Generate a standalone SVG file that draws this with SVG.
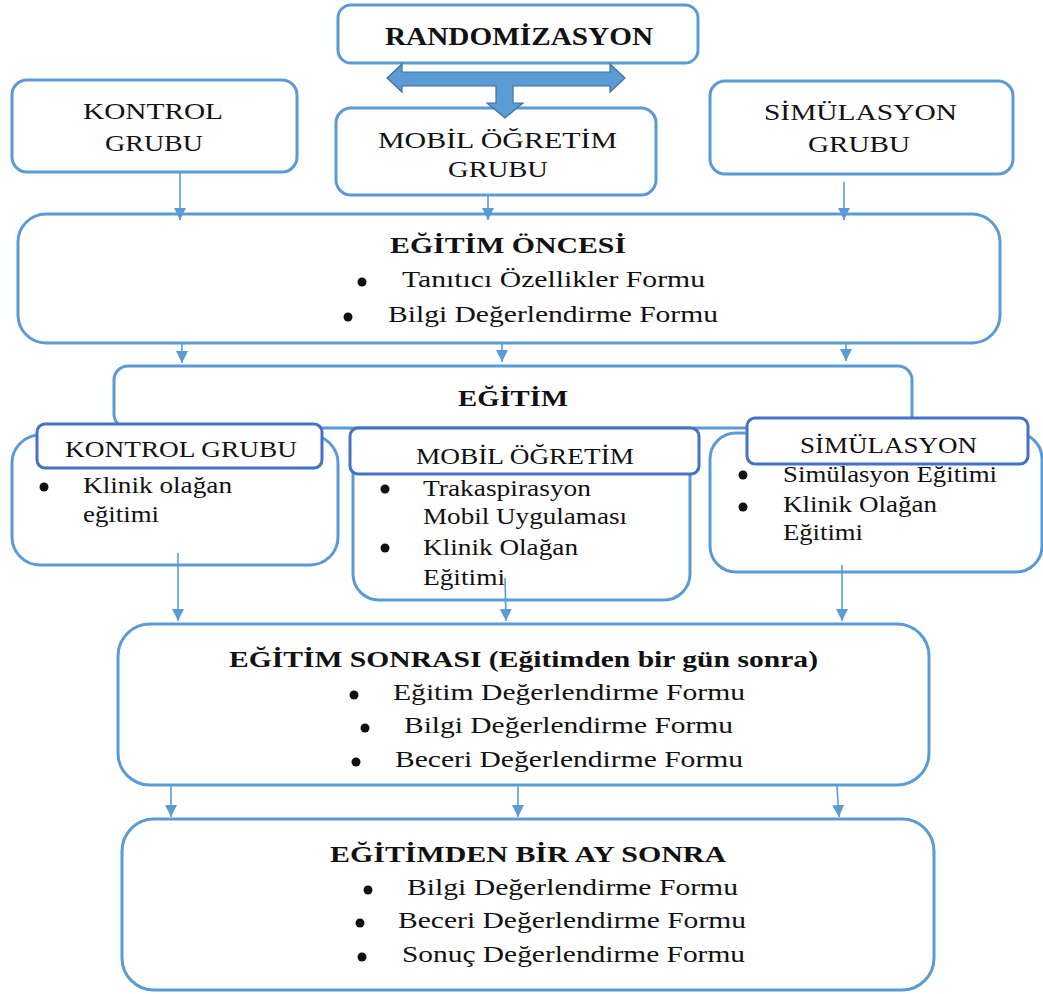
<svg xmlns="http://www.w3.org/2000/svg" width="1043" height="994" viewBox="0 0 1043 994">
<defs>
<style>
.box{fill:#fff;stroke:#5B9BD5;stroke-width:3}
.hdr{fill:#fff;stroke:#4472C4;stroke-width:3}
.t{font-family:"Liberation Serif","Times New Roman",serif;font-size:23px;fill:#111}
.tl{font-family:"Liberation Serif","Times New Roman",serif;font-size:24px;fill:#111}
.b{font-family:"Liberation Serif","Times New Roman",serif;font-size:23px;font-weight:bold;fill:#111}
.bl{font-family:"Liberation Serif","Times New Roman",serif;font-size:26px;font-weight:bold;fill:#111}
.bul{fill:#111}
.con{stroke:#5B9BD5;stroke-width:1.6;fill:none;marker-end:url(#ah)}
</style>
<marker id="ah" markerUnits="userSpaceOnUse" markerWidth="14" markerHeight="12" refX="12" refY="6" orient="auto">
<path d="M0,0 L12,6 L0,12 Z" fill="#5B9BD5"/>
</marker>
</defs>
<rect width="1043" height="994" fill="#fff"/>

<g id="randomizasyon">
<rect class="box" x="338" y="5" width="360" height="58" rx="13"/>
<text class="bl" x="385" y="45" textLength="268" lengthAdjust="spacingAndGlyphs">RANDOMİZASYON</text>
</g>

<g id="kontrol-grubu">
<rect class="box" x="12" y="80" width="285" height="92" rx="15"/>
<text class="tl" x="83" y="119" textLength="140" lengthAdjust="spacingAndGlyphs">KONTROL</text>
<text class="tl" x="105" y="151" textLength="98" lengthAdjust="spacingAndGlyphs">GRUBU</text>
</g>

<g id="mobil-grubu">
<rect class="box" x="336" y="108" width="320" height="87" rx="15"/>
<text class="tl" x="378" y="148" textLength="239" lengthAdjust="spacingAndGlyphs">MOBİL ÖĞRETİM</text>
<text class="tl" x="448" y="177" textLength="100" lengthAdjust="spacingAndGlyphs">GRUBU</text>
</g>

<g id="block-arrow">
<path d="M387,78 L402,64 L402,72 L610,72 L610,64 L625,78 L610,92 L610,86 L513,86 L513,103 L523,103 L505,118 L487,103 L496,103 L496,86 L402,86 L402,92 Z" fill="#5B9BD5" stroke="#41719C" stroke-width="1.2"/>
</g>

<g id="simulasyon-grubu">
<rect class="box" x="710" y="81" width="303" height="93" rx="15"/>
<text class="tl" x="764" y="120" textLength="193" lengthAdjust="spacingAndGlyphs">SİMÜLASYON</text>
<text class="tl" x="808" y="152" textLength="102" lengthAdjust="spacingAndGlyphs">GRUBU</text>
</g>

<g id="egitim-oncesi">
<rect class="box" x="18" y="214" width="982" height="129" rx="28"/>
<text class="b" x="390" y="253" textLength="236" lengthAdjust="spacingAndGlyphs">EĞİTİM ÖNCESİ</text>
<circle class="bul" cx="362" cy="282" r="4.5"/>
<text class="t" x="402" y="287" textLength="303" lengthAdjust="spacingAndGlyphs">Tanıtıcı Özellikler Formu</text>
<circle class="bul" cx="348" cy="317" r="4.5"/>
<text class="t" x="388" y="322" textLength="330" lengthAdjust="spacingAndGlyphs">Bilgi Değerlendirme Formu</text>
</g>

<g id="egitim">
<rect class="box" x="114" y="366" width="798" height="62" rx="14"/>
<text class="b" x="458" y="406" textLength="110" lengthAdjust="spacingAndGlyphs">EĞİTİM</text>
</g>

<g id="egitim-kontrol">
<rect class="box" x="12" y="435" width="326" height="130" rx="28"/>
<rect class="hdr" x="37" y="424" width="285" height="44" rx="8"/>
<text class="t" x="65" y="457" textLength="232" lengthAdjust="spacingAndGlyphs">KONTROL GRUBU</text>
<circle class="bul" cx="44" cy="487" r="4.5"/>
<text class="t" x="83" y="493" textLength="149" lengthAdjust="spacingAndGlyphs">Klinik olağan</text>
<text class="t" x="83" y="522" textLength="76" lengthAdjust="spacingAndGlyphs">eğitimi</text>
</g>

<g id="egitim-mobil">
<rect class="box" x="353" y="440" width="337" height="160" rx="26"/>
<rect class="hdr" x="350" y="428" width="349" height="46" rx="8"/>
<text class="t" x="416" y="464" textLength="218" lengthAdjust="spacingAndGlyphs">MOBİL ÖĞRETİM</text>
<circle class="bul" cx="385" cy="489" r="4.5"/>
<text class="t" x="423" y="496" textLength="168" lengthAdjust="spacingAndGlyphs">Trakaspirasyon</text>
<text class="t" x="423" y="524" textLength="204" lengthAdjust="spacingAndGlyphs">Mobil Uygulaması</text>
<circle class="bul" cx="385" cy="548" r="4.5"/>
<text class="t" x="423" y="555" textLength="155" lengthAdjust="spacingAndGlyphs">Klinik Olağan</text>
<text class="t" x="423" y="585" textLength="82" lengthAdjust="spacingAndGlyphs">Eğitimi</text>
</g>

<g id="egitim-simulasyon">
<rect class="box" x="710" y="433" width="332" height="139" rx="26"/>
<rect class="hdr" x="747" y="418" width="281" height="46" rx="8"/>
<text class="t" x="800" y="453" textLength="177" lengthAdjust="spacingAndGlyphs">SİMÜLASYON</text>
<circle class="bul" cx="743" cy="475" r="4.5"/>
<text class="t" x="783" y="482" textLength="214" lengthAdjust="spacingAndGlyphs">Simülasyon Eğitimi</text>
<circle class="bul" cx="743" cy="507" r="4.5"/>
<text class="t" x="783" y="512" textLength="154" lengthAdjust="spacingAndGlyphs">Klinik Olağan</text>
<text class="t" x="783" y="540" textLength="80" lengthAdjust="spacingAndGlyphs">Eğitimi</text>
</g>

<g id="egitim-sonrasi">
<rect class="box" x="118" y="624" width="811" height="161" rx="32"/>
<text class="b" x="229" y="667" textLength="589" lengthAdjust="spacingAndGlyphs">EĞİTİM SONRASI (Eğitimden bir gün sonra)</text>
<circle class="bul" cx="354" cy="695" r="4.5"/>
<text class="t" x="393" y="700" textLength="352" lengthAdjust="spacingAndGlyphs">Eğitim Değerlendirme Formu</text>
<circle class="bul" cx="365" cy="728" r="4.5"/>
<text class="t" x="404" y="733" textLength="329" lengthAdjust="spacingAndGlyphs">Bilgi Değerlendirme Formu</text>
<circle class="bul" cx="356" cy="762" r="4.5"/>
<text class="t" x="395" y="767" textLength="348" lengthAdjust="spacingAndGlyphs">Beceri Değerlendirme Formu</text>
</g>

<g id="egitimden-bir-ay-sonra">
<rect class="box" x="122" y="819" width="812" height="171" rx="32"/>
<text class="b" x="330" y="862" textLength="396" lengthAdjust="spacingAndGlyphs">EĞİTİMDEN BİR AY SONRA</text>
<circle class="bul" cx="368" cy="890" r="4.5"/>
<text class="t" x="407" y="895" textLength="331" lengthAdjust="spacingAndGlyphs">Bilgi Değerlendirme Formu</text>
<circle class="bul" cx="360" cy="923" r="4.5"/>
<text class="t" x="398" y="928" textLength="348" lengthAdjust="spacingAndGlyphs">Beceri Değerlendirme Formu</text>
<circle class="bul" cx="362" cy="957" r="4.5"/>
<text class="t" x="402" y="962" textLength="343" lengthAdjust="spacingAndGlyphs">Sonuç Değerlendirme Formu</text>
</g>

<g id="connectors">
<line class="con" x1="180" y1="172" x2="180" y2="220"/>
<line class="con" x1="488" y1="196" x2="488" y2="220"/>
<line class="con" x1="844" y1="182" x2="844" y2="220"/>
<line class="con" x1="182" y1="344" x2="182" y2="363"/>
<line class="con" x1="502" y1="344" x2="502" y2="362"/>
<line class="con" x1="846" y1="344" x2="846" y2="361"/>
<line class="con" x1="178" y1="553" x2="178" y2="621"/>
<line class="con" x1="505" y1="578" x2="506" y2="621"/>
<line class="con" x1="842" y1="565" x2="842" y2="621"/>
<line class="con" x1="171" y1="786" x2="171" y2="817"/>
<line class="con" x1="518" y1="786" x2="518" y2="817"/>
<line class="con" x1="837" y1="786" x2="839" y2="817"/>
</g>
</svg>
